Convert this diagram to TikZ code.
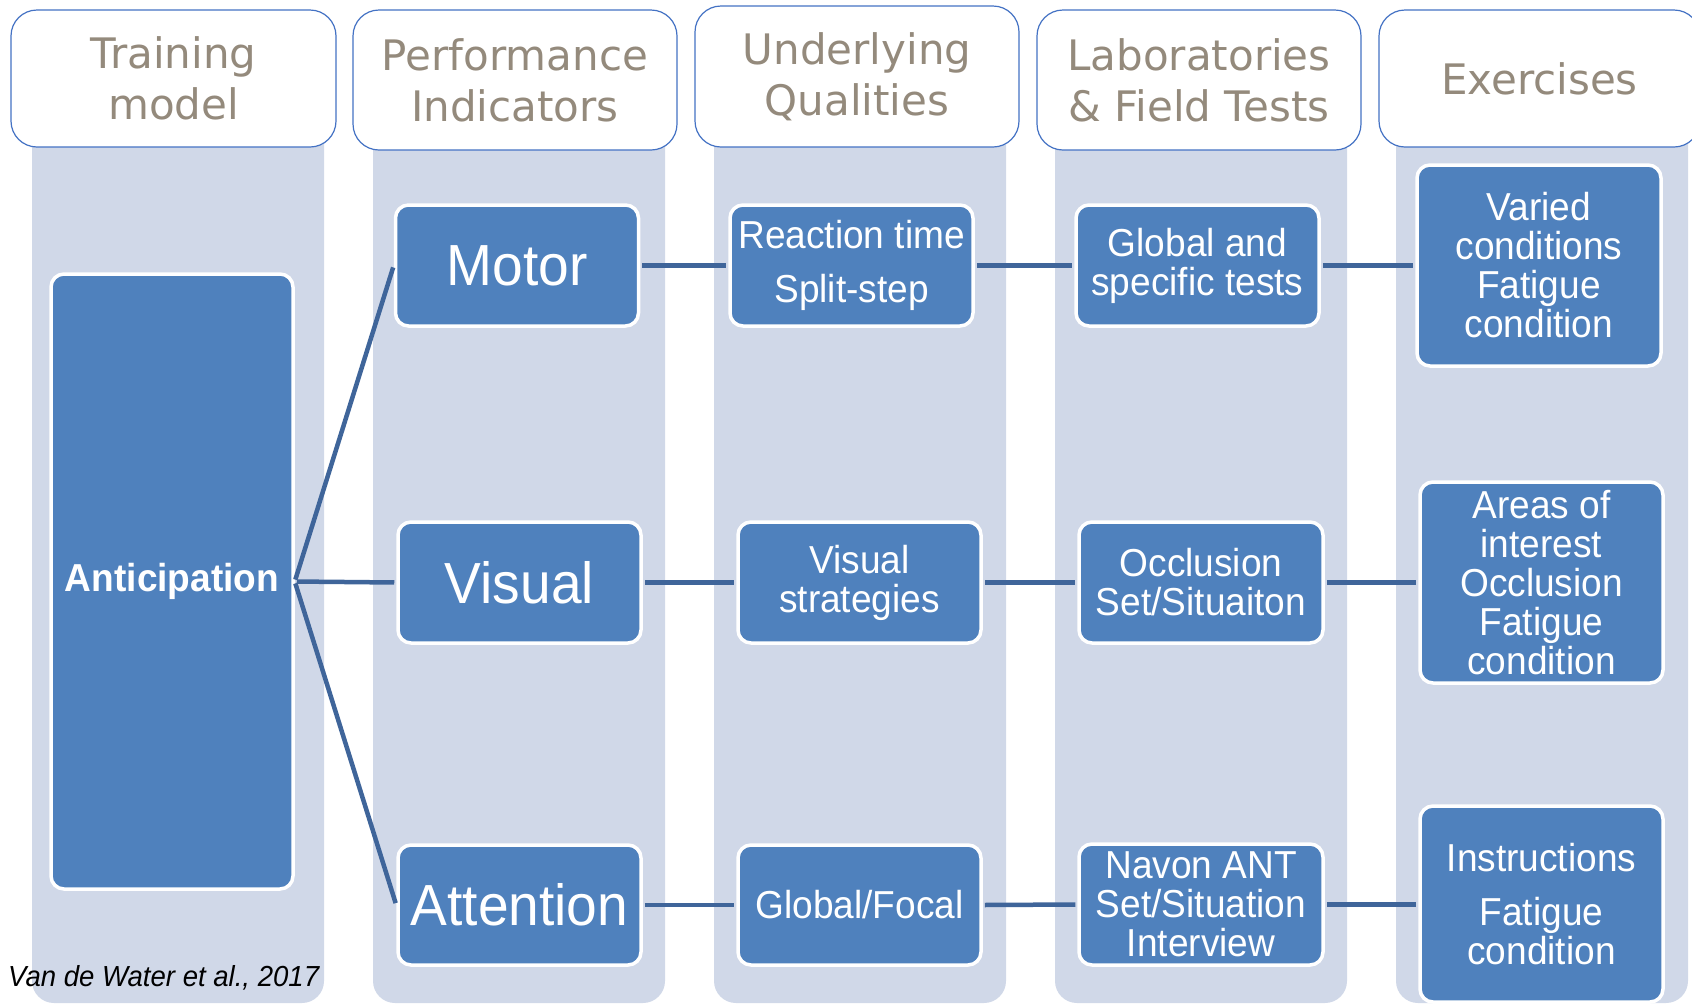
\documentclass[tikz,border=0pt]{standalone}
\usepackage{fontspec}
\setmainfont{Liberation Sans}
\newfontfamily\hdfont{DejaVu Sans}
\newfontfamily\bxfont[FakeStretch=0.95]{Liberation Sans}
\definecolor{colbg}{HTML}{D0D8E8}
\definecolor{boxblue}{HTML}{4F81BD}
\definecolor{linkblue}{HTML}{3F659A}
\definecolor{hdrline}{HTML}{4472C4}
\definecolor{hdrtext}{HTML}{948A7C}
\begin{document}
\begin{tikzpicture}[x=1pt,y=-1pt,
  colstrip/.style={fill=colbg, rounded corners=22pt},
  hdr/.style={draw=hdrline, line width=1.2pt, fill=white, rounded corners=26pt,
    text=hdrtext, font=\hdfont\fontsize{42}{51}\selectfont, align=center, inner sep=0pt,
    minimum width=324pt},
  bluebox/.style={draw=white, line width=3.5pt, fill=boxblue, rounded corners=13pt,
    text=white, align=center, inner sep=0pt, minimum width=243pt},
  bigtxt/.style={font=\bxfont\fontsize{58}{60}\selectfont},
  medtxt/.style={font=\bxfont\fontsize{39}{39}\selectfont},
  link/.style={draw=linkblue, line width=4.5pt, shorten <=2pt, shorten >=2pt}]
\useasboundingbox (0,0) rectangle (1692,1005);
\fill[white] (0,0) rectangle (1692,1005);
% column strips
\fill[colstrip] (32,100) rectangle (324,1003);
\fill[colstrip] (373,100) rectangle (665,1003);
\fill[colstrip] (714,100) rectangle (1006,1003);
\fill[colstrip] (1055,100) rectangle (1347,1003);
\fill[colstrip] (1396,100) rectangle (1688,1003);
% headers
\node[hdr, minimum width=325pt, minimum height=137pt] (h1) at (173.5,78.5) {Training\\model};
\node[hdr, minimum height=140pt] (h2) at (515,80) {Performance\\Indicators};
\node[hdr, minimum height=141pt] (h3) at (857,76.5) {Underlying\\Qualities};
\node[hdr, minimum height=140pt] (h4) at (1199,80) {Laboratories\\\& Field Tests};
\node[hdr, minimum width=321pt, minimum height=137pt] (h5) at (1539.5,78.5) {Exercises};
% boxes
\node[bluebox, minimum width=242pt, minimum height=615pt,
  font=\bxfont\bfseries\fontsize{39}{39}\selectfont] (ant) at (172,581.5) {Anticipation};
\node[bluebox, bigtxt, minimum height=121pt] (motor) at (517,265.5) {Motor};
\node[bluebox, bigtxt, minimum height=121pt] (visual) at (519.5,582.5) {Visual};
\node[bluebox, bigtxt, minimum height=120pt] (attn) at (519.5,905) {Attention};
\node[bluebox, medtxt, minimum height=121pt] (react) at (851.5,265.5) {Reaction time\\[15pt]Split-step};
\node[bluebox, medtxt, minimum height=121pt] (vstrat) at (859.5,582.5) {Visual\\strategies};
\node[bluebox, medtxt, minimum height=120pt] (gfocal) at (859.5,905) {Global/Focal};
\node[bluebox, medtxt, minimum height=121pt] (gtests) at (1197.5,265.5) {Global and\\specific tests};
\node[bluebox, medtxt, minimum width=244pt, minimum height=121pt] (occl) at (1201,582.5) {Occlusion\\Set/Situaiton};
\node[bluebox, medtxt, minimum width=244pt, minimum height=121pt] (navon) at (1201,904.5) {Navon ANT\\Set/Situation\\Interview};
\node[bluebox, medtxt, minimum width=244pt, minimum height=201pt] (varied) at (1539,265.5) {Varied\\conditions\\Fatigue\\condition};
\node[bluebox, medtxt, minimum width=243pt, minimum height=201pt] (areas) at (1541.5,582.5) {Areas of\\interest\\Occlusion\\Fatigue\\condition};
\node[bluebox, medtxt, minimum width=243pt, minimum height=196pt] (instr) at (1541.5,904) {Instructions\\[15pt]Fatigue\\condition};
% connectors
\draw[link] (ant.east) -- (motor.west);
\draw[link] (ant.east) -- (visual.west);
\draw[link] (ant.east) -- (attn.west);
\draw[link] (motor.east) -- (react.west);
\draw[link] (react.east) -- (gtests.west);
\draw[link] (gtests.east) -- (gtests.east -| varied.west);
\draw[link] (visual.east) -- (vstrat.west);
\draw[link] (vstrat.east) -- (occl.west);
\draw[link] (occl.east) -- (areas.west);
\draw[link] (attn.east) -- (gfocal.west);
\draw[link] (gfocal.east) -- (navon.west);
\draw[link] (navon.east) -- (navon.east -| instr.west);
% citation
\node[anchor=west, inner sep=0pt, font=\bxfont\itshape\fontsize{29}{29}\selectfont] (cite) at (8,978) {Van de Water et al., 2017};
\end{tikzpicture}
\end{document}
